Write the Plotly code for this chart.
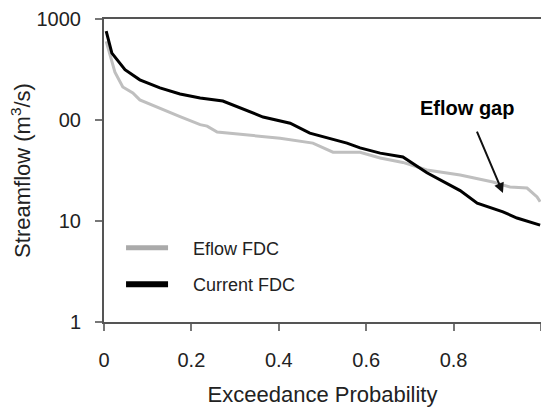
import plotly.graph_objects as go

# Current FDC (black)
cur_x = [0.005, 0.018, 0.048, 0.082, 0.128, 0.174, 0.22, 0.272, 0.364, 0.426, 0.471, 0.556,
         0.586, 0.632, 0.684, 0.739, 0.815, 0.854, 0.913, 0.945, 0.998]
cur_y = [760, 460, 315, 250, 208, 181, 165, 154, 107, 93, 74, 59,
         53, 47, 43, 30, 20, 15, 12.3, 10.7, 9.1]

# Eflow FDC (grey)
efl_x = [0.005, 0.025, 0.043, 0.066, 0.082, 0.135, 0.174, 0.22, 0.236, 0.259, 0.327, 0.403,
         0.478, 0.524, 0.586, 0.632, 0.684, 0.739, 0.815, 0.89, 0.929, 0.968, 0.991, 0.998]
efl_y = [600, 298, 212, 185, 158, 126, 108, 90, 87, 76, 71, 66,
         59, 48, 48, 42, 38, 32, 28.5, 24.3, 21.7, 21.2, 17.3, 15.5]

x_ticks = [0, 0.2, 0.4, 0.6, 0.8, 1]
x_labels = ["0", "0.2", "0.4", "0.6", "0.8", "1"]
y_ticks = [1, 10, 100, 1000]
y_labels = ["1", "10", "00", "1000"]

GREY = "#bfbfbf"
FONT = "Arial, Liberation Sans, sans-serif"
PAD = "\u00a0" * 4

fig = go.Figure()
fig.add_trace(go.Scatter(x=efl_x, y=efl_y, mode="lines", showlegend=False,
                         line=dict(color=GREY, width=3)))
fig.add_trace(go.Scatter(x=cur_x, y=cur_y, mode="lines", showlegend=False,
                         line=dict(color="black", width=3)))
# legend entries
fig.add_trace(go.Scatter(x=[None], y=[None], mode="lines", name=PAD + "Eflow FDC",
                         legendgroup="a", line=dict(color="#aaaaaa", width=5)))
fig.add_trace(go.Scatter(x=[None], y=[None], mode="lines", name=PAD + "Current FDC",
                         legendgroup="b", line=dict(color="black", width=6)))

fig.add_annotation(x=0.913, y=1.277, xref="x", yref="y", text="<b>Eflow gap</b>",
                   showarrow=True, ax=-36, ay=-85, arrowhead=2, arrowsize=1,
                   arrowwidth=2, arrowcolor="#111", startstandoff=12,
                   font=dict(family=FONT, size=20, color="black"))

fig.update_layout(
    width=541, height=407,
    margin=dict(l=104, r=0, t=19, b=85),
    paper_bgcolor="white", plot_bgcolor="white",
    font=dict(family=FONT, color="#222"),
    showlegend=True,
    legend=dict(x=0.039, y=0.305, xanchor="left", yanchor="top", itemwidth=42,
                font=dict(family=FONT, size=18, color="#222"),
                bgcolor="rgba(0,0,0,0)", tracegroupgap=10, traceorder="grouped"),
    xaxis=dict(range=[0, 1], tickvals=x_ticks, ticktext=x_labels,
               showgrid=False, zeroline=False, automargin=False,
               showline=True, linecolor="#555", linewidth=2, mirror=True,
               ticks="outside", ticklen=7, tickcolor="#777", tickwidth=1.5,
               ticklabelstandoff=12,
               tickfont=dict(family=FONT, size=20, color="#222"),
               title=dict(text="Exceedance Probability", standoff=18,
                          font=dict(family=FONT, size=22, color="#222"))),
    yaxis=dict(type="log", range=[0, 3], tickvals=y_ticks, ticktext=y_labels,
               showgrid=False, zeroline=False, automargin=False,
               showline=True, linecolor="#555", linewidth=2, mirror=True,
               ticks="outside", ticklen=7, tickcolor="#777", tickwidth=1.5,
               ticklabelstandoff=10,
               tickfont=dict(family=FONT, size=20, color="#222"),
               title=dict(text="Streamflow (m<sup>3</sup>/s)", standoff=0,
                          font=dict(family=FONT, size=22, color="#222"))),
)

fig.write_html("out.html", config={"displayModeBar": False},
               post_script="document.body.style.margin='0';document.body.style.overflow='hidden';")
